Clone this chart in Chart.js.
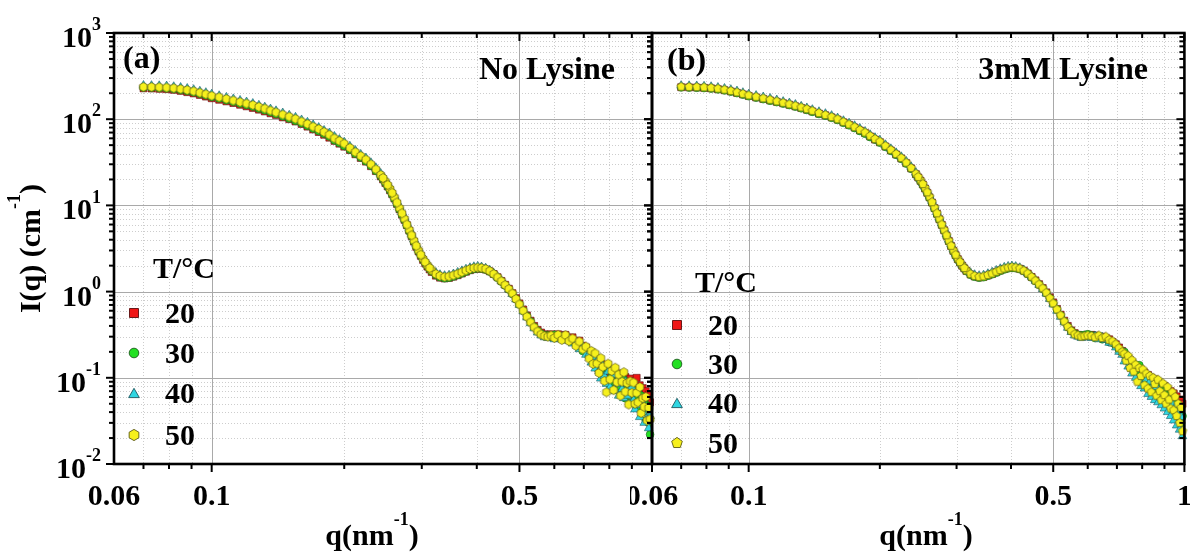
<!DOCTYPE html>
<html>
<head>
<meta charset="utf-8">
<script src="https://cdn.jsdelivr.net/npm/chart.js@4.4.0/dist/chart.umd.min.js"></script>
<style>
  html, body { margin: 0; padding: 0; background: #fff; }
  #wrap { position: relative; width: 1190px; height: 556px; overflow: hidden; background: #fff; }
  #wrap canvas { position: absolute; top: 0; }
  #cA { left: 0; }
  #cB { left: 630px; }
</style>
</head>
<body>
<div id="wrap">
  <canvas id="cA" width="660" height="556" style="width:660px;height:556px"></canvas>
  <canvas id="cB" width="560" height="556" style="width:560px;height:556px"></canvas>
</div>
<script>
/* SAXS curves I(q) vs q, two panels, log-log */

// q grid (nm^-1), shared by all series; last row = extra points on the steep part
const qValues = [
  0.070,0.073,0.076,0.079,0.082,0.085,0.088,0.091,0.094,0.097,0.100,
  0.104,0.108,0.112,0.116,0.120,0.124,0.128,0.132,0.136,0.140,
  0.145,0.150,0.155,0.160,0.165,0.170,0.175,0.180,0.185,0.190,0.195,0.200,
  0.206,0.212,0.218,0.224,0.230,0.236,0.242,0.248,0.254,0.260,
  0.267,0.274,0.281,0.288,0.295,0.302,0.309,0.316,0.323,0.330,
  0.338,0.346,0.354,0.362,0.370,0.378,0.386,0.394,0.402,0.410,
  0.419,0.428,0.437,0.446,0.455,0.464,0.473,0.482,0.491,0.500,
  0.510,0.520,0.530,0.540,0.550,0.560,0.570,0.580,0.590,0.600,
  0.612,0.624,0.636,0.648,0.660,0.672,0.684,0.696,0.708,0.720,
  0.728,0.735,0.743,0.750,0.758,0.765,0.773,0.780,0.788,0.795,0.803,0.810,
  0.818,0.825,0.833,0.840,0.848,0.855,0.863,0.870,0.878,0.885,0.893,0.900,
  0.908,0.915,0.923,0.930,0.938,0.945,0.953,0.960,0.968,0.975,0.983,0.990,
  0.245,0.251,0.257,0.2635,0.2705,0.2775,0.2845,0.2915,0.2985,0.3055,0.3125
];

// (a) No Lysine, I(q) in cm^-1
const aT20 = [
  228,227,225,223,219,213,206,199,191,183,175,
  168,161,154,147,141,135,129,123,117,112,
  105,100,94,88,82,76,71,66,61,56,52,48,
  43.8,39.2,35.5,32.2,28.5,25,21.7,18.2,15,12,
  9.0,6.8,5.1,3.8,2.92,2.33,1.95,1.69,1.53,1.45,
  1.42,1.44,1.49,1.55,1.62,1.70,1.77,1.82,1.85,1.84,
  1.80,1.72,1.60,1.47,1.33,1.20,1.08,0.96,0.84,0.73,
  0.62,0.53,0.46,0.40,0.36,0.335,0.32,0.315,0.32,0.31,
  0.32,0.305,0.315,0.29,0.295,0.265,0.27,0.235,0.225,0.20,
  0.195,0.178,0.17,0.162,0.15,0.145,0.128,0.142,0.12,0.13,0.112,0.125,
  0.105,0.118,0.10,0.112,0.095,0.108,0.09,0.102,0.094,0.085,0.098,0.08,
  0.092,0.076,0.10,0.072,0.082,0.068,0.076,0.062,0.07,0.058,0.064,0.052,
  20,16.6,13.5,10.4,7.8,5.9,4.4,3.3,2.6,2.13,1.81
];
const aT30 = [
  233,232,230,228,224,218,212,205,197,189,181,
  174,166,159,152,146,140,133,127,121,115,
  108,102,96,90,84,78,73,68,63,57,53,49,
  44.5,39.8,36,32.6,28.8,25.2,21.8,18.3,15,12,
  9.0,6.8,5.05,3.8,2.93,2.36,1.98,1.72,1.56,1.47,
  1.43,1.45,1.50,1.56,1.63,1.71,1.78,1.83,1.86,1.85,
  1.80,1.71,1.59,1.45,1.31,1.18,1.06,0.94,0.82,0.71,
  0.60,0.52,0.45,0.39,0.35,0.325,0.31,0.31,0.30,0.315,
  0.305,0.29,0.30,0.27,0.275,0.245,0.25,0.205,0.215,0.175,
  0.19,0.155,0.168,0.13,0.152,0.118,0.102,0.135,0.095,0.125,0.082,0.105,
  0.09,0.115,0.072,0.096,0.08,0.065,0.095,0.058,0.082,0.068,0.08,0.052,
  0.072,0.06,0.045,0.068,0.05,0.062,0.04,0.055,0.032,0.048,0.03,0.022,
  20.1,16.6,13.4,10.4,7.8,5.85,4.4,3.33,2.62,2.16,1.84
];
const aT40 = [
  246,245,244,242,238,233,227,220,211,203,195,
  187,179,172,165,158,152,145,138,131,125,
  118,111,105,98,92,86,80,74,69,63,58,54,
  48.5,43.3,39,35.4,31.2,27.3,23.5,19.8,16.2,12.9,
  9.7,7.3,5.4,4.05,3.1,2.5,2.09,1.82,1.66,1.57,
  1.53,1.55,1.60,1.67,1.74,1.82,1.89,1.94,1.96,1.93,
  1.87,1.77,1.63,1.48,1.33,1.19,1.06,0.94,0.81,0.70,
  0.59,0.50,0.43,0.375,0.335,0.31,0.295,0.29,0.295,0.28,
  0.285,0.30,0.27,0.285,0.25,0.26,0.215,0.23,0.185,0.19,
  0.15,0.172,0.128,0.155,0.12,0.098,0.14,0.105,0.085,0.118,0.078,0.098,
  0.108,0.07,0.09,0.062,0.085,0.074,0.058,0.09,0.062,0.072,0.05,0.078,
  0.055,0.043,0.066,0.048,0.035,0.055,0.04,0.03,0.045,0.034,0.026,0.036,
  21.6,18,14.5,11.2,8.4,6.3,4.7,3.55,2.78,2.28,1.95
];
const aT50 = [
  237,236,235,233,229,224,218,211,203,195,187,
  180,172,165,158,152,146,139,133,126,120,
  113,107,101,94,88,82,77,71,66,60,56,52,
  46.5,41.5,37.5,34,30,26.2,22.6,19,15.6,12.4,
  9.3,7.0,5.2,3.9,3.0,2.4,2.02,1.76,1.60,1.52,
  1.48,1.50,1.55,1.61,1.68,1.76,1.83,1.88,1.90,1.88,
  1.83,1.73,1.60,1.46,1.32,1.19,1.07,0.95,0.82,0.71,
  0.60,0.51,0.44,0.385,0.345,0.318,0.305,0.30,0.31,0.29,
  0.315,0.275,0.313,0.266,0.286,0.235,0.264,0.214,0.23,0.167,
  0.205,0.145,0.192,0.147,0.114,0.169,0.134,0.092,0.068,0.146,0.096,0.12,
  0.072,0.131,0.089,0.109,0.062,0.09,0.116,0.069,0.087,0.049,0.091,0.067,
  0.088,0.05,0.067,0.052,0.078,0.039,0.058,0.046,0.06,0.032,0.045,0.033,
  20.8,17.3,14.0,10.8,8.1,6.0,4.5,3.4,2.68,2.2,1.88
];

// (b) 3mM Lysine
const bT20 = [
  235,234,233,231,228,223,217,210,202,194,186,
  179,172,165,159,153,147,141,135,129,123,
  116,111,105,99,92,86,80,74,69,63,58,54,
  48.2,43.4,39,35,30.9,26.9,23,19.3,15.7,12.4,
  9.3,6.9,5.15,3.86,2.97,2.38,2.0,1.74,1.58,1.5,
  1.46,1.48,1.54,1.6,1.68,1.76,1.83,1.88,1.9,1.89,
  1.84,1.75,1.62,1.48,1.35,1.22,1.1,0.98,0.86,0.75,
  0.63,0.54,0.46,0.4,0.355,0.33,0.315,0.305,0.31,0.315,
  0.315,0.31,0.30,0.30,0.29,0.28,0.26,0.245,0.225,0.205,
  0.19,0.18,0.168,0.16,0.15,0.142,0.135,0.128,0.12,0.125,0.11,0.115,
  0.10,0.108,0.095,0.10,0.09,0.096,0.084,0.09,0.078,0.085,0.072,0.08,
  0.068,0.074,0.064,0.07,0.06,0.066,0.056,0.061,0.052,0.056,0.048,0.05,
  21.1,17.5,14,10.8,8.0,5.95,4.45,3.38,2.65,2.18,1.86
];
const bT30 = [
  234,233,232,230,227,222,216,209,201,193,185,
  178,171,164,158,152,146,140,134,128,122,
  115,110,104,98,91,85,79,73,68,62,58,53.5,
  47.8,43,38.6,34.7,30.6,26.6,22.8,19.1,15.6,12.3,
  9.2,6.85,5.1,3.82,2.95,2.36,1.99,1.73,1.57,1.49,
  1.45,1.47,1.53,1.59,1.66,1.74,1.81,1.86,1.88,1.87,
  1.82,1.73,1.6,1.46,1.33,1.2,1.08,0.96,0.84,0.73,
  0.62,0.53,0.45,0.39,0.35,0.325,0.315,0.31,0.315,0.32,
  0.31,0.29,0.305,0.28,0.285,0.26,0.255,0.235,0.21,0.195,
  0.20,0.16,0.165,0.145,0.135,0.145,0.118,0.112,0.14,0.10,0.095,0.11,
  0.085,0.095,0.078,0.09,0.072,0.088,0.062,0.078,0.058,0.074,0.055,0.07,
  0.05,0.062,0.046,0.058,0.042,0.052,0.038,0.047,0.034,0.042,0.03,0.036,
  20.9,17.3,13.9,10.7,7.9,5.9,4.42,3.36,2.63,2.16,1.85
];
const bT40 = [
  245,244,243,241,238,233,227,220,212,203,195,
  188,181,174,167,160,154,148,141,135,129,
  122,116,110,103,96,90,84,78,72,66,61,57,
  50.5,45.3,40.7,36.6,32.3,28,24,20.1,16.4,13,
  9.7,7.2,5.35,4.0,3.1,2.47,2.08,1.81,1.65,1.57,
  1.53,1.55,1.61,1.68,1.76,1.84,1.91,1.96,1.98,1.95,
  1.89,1.78,1.64,1.49,1.34,1.2,1.07,0.95,0.82,0.71,
  0.6,0.51,0.44,0.38,0.34,0.31,0.30,0.29,0.30,0.295,
  0.29,0.305,0.28,0.295,0.275,0.255,0.25,0.225,0.20,0.185,
  0.155,0.175,0.135,0.155,0.112,0.142,0.10,0.126,0.092,0.08,0.11,0.075,
  0.096,0.065,0.09,0.06,0.082,0.055,0.078,0.052,0.07,0.048,0.065,0.044,
  0.06,0.04,0.055,0.036,0.05,0.032,0.046,0.028,0.04,0.025,0.035,0.021,
  22,18.2,14.7,11.3,8.4,6.2,4.65,3.52,2.76,2.26,1.94
];
const bT50 = [
  238,237,236,234,231,226,220,213,205,197,189,
  182,175,168,161,155,149,143,137,131,125,
  118,112,106,100,93,87,81,75,70,64,59,55,
  49,44,39.5,35.5,31.3,27.2,23.3,19.5,15.9,12.6,
  9.4,7.0,5.2,3.9,3.0,2.4,2.02,1.76,1.60,1.52,
  1.48,1.50,1.56,1.62,1.70,1.78,1.85,1.90,1.92,1.90,
  1.85,1.75,1.62,1.48,1.34,1.21,1.09,0.97,0.84,0.73,
  0.62,0.53,0.45,0.39,0.35,0.32,0.31,0.30,0.305,0.31,
  0.305,0.295,0.31,0.29,0.30,0.275,0.265,0.245,0.22,0.20,
  0.19,0.158,0.18,0.13,0.16,0.118,0.142,0.09,0.13,0.105,0.125,0.082,
  0.112,0.075,0.105,0.068,0.10,0.085,0.062,0.095,0.07,0.055,0.086,0.063,
  0.05,0.078,0.056,0.044,0.068,0.042,0.06,0.036,0.05,0.03,0.045,0.024,
  21.4,17.7,14.2,10.9,8.1,6.0,4.5,3.4,2.68,2.2,1.88
];

const tempLabels = ['20', '30', '40', '50'];

// axis ticks
const xMinorTicks = [0.07, 0.08, 0.09, 0.2, 0.3, 0.4, 0.6, 0.7, 0.8, 0.9];
const xMajorTicks = [0.1, 0.5];
const yDecades = [-2, -1, 0, 1, 2, 3];
const yMinorSteps = [2, 3, 4, 5, 6, 7, 8, 9];

// styles
const FONT = '"Liberation Serif", "Times New Roman", serif';
const fills = ['#f01616', '#22e022', '#2fd6e2', '#f6f01c'];
const edges = ['#5a0d0d', '#1d5a1d', '#1d5860', '#5c5a10'];

function polyMarker(n, r, fill, stroke){
  const s = Math.ceil(r*2 + 3);
  const c = document.createElement('canvas'); c.width = s; c.height = s;
  const g = c.getContext('2d');
  g.beginPath();
  for(let k=0;k<n;k++){
    const t = -Math.PI/2 + k*2*Math.PI/n;
    const px = s/2 + r*Math.cos(t), py = s/2 + r*Math.sin(t);
    k ? g.lineTo(px,py) : g.moveTo(px,py);
  }
  g.closePath(); g.fillStyle = fill; g.fill();
  g.lineWidth = 0.7; g.strokeStyle = stroke; g.stroke();
  return c;
}

const toPts = (ys) => ys.map((v,i)=>({x:qValues[i], y:v}));

function makeDatasets(series, lastSides){
  const styles = [
    {pointStyle:'rect', pointRadius:4.9},
    {pointStyle:'circle', pointRadius:3.9},
    {pointStyle:'triangle', pointRadius:5},
    {pointStyle:polyMarker(lastSides, 4.5, fills[3], edges[3]), pointRadius:4.5},
  ];
  return series.map((ys,i)=>({
    label: tempLabels[i],
    data: toPts(ys),
    showLine:false,
    pointStyle: styles[i].pointStyle,
    pointRadius: styles[i].pointRadius,
    pointBackgroundColor: fills[i],
    pointBorderColor: edges[i],
    pointBorderWidth: 0.6,
    order: 4 - i,
    clip: false,
  }));
}

function hline(ctx,x1,x2,y){ ctx.beginPath(); ctx.moveTo(x1,y); ctx.lineTo(x2,y); ctx.stroke(); }
function vline(ctx,x,y1,y2){ ctx.beginPath(); ctx.moveTo(x,y1); ctx.lineTo(x,y2); ctx.stroke(); }

// text with superscript parts: [[text, isSup], ...]
function supText(ctx, parts, x, y, align, size, lift){
  const big = `bold ${size}px ${FONT}`, small = `bold ${Math.round(size*0.6)}px ${FONT}`;
  let w = 0;
  parts.forEach(([t,s])=>{ ctx.font = s?small:big; w += ctx.measureText(t).width; });
  let cx = align==='center' ? x - w/2 : (align==='right' ? x - w : x);
  ctx.textAlign = 'left'; ctx.textBaseline = 'alphabetic';
  parts.forEach(([t,s])=>{
    ctx.font = s?small:big;
    ctx.fillText(t, cx, s ? y - size*lift : y);
    cx += ctx.measureText(t).width;
  });
}

function legendMark(ctx, i, x, y, sides){
  ctx.save();
  ctx.fillStyle = fills[i]; ctx.strokeStyle = edges[i]; ctx.lineWidth = 0.9;
  ctx.beginPath();
  if(i===0){ ctx.rect(x-4.5, y-4.5, 9, 9); }
  else if(i===1){ ctx.arc(x, y, 4.8, 0, Math.PI*2); }
  else {
    const n = i===2 ? 3 : sides, r = i===2 ? 6.2 : 5.6;
    for(let k=0;k<n;k++){
      const t = -Math.PI/2 + k*2*Math.PI/n;
      const px = x + r*Math.cos(t), py = y + (i===2?1.5:0) + r*Math.sin(t);
      k ? ctx.lineTo(px,py) : ctx.moveTo(px,py);
    }
    ctx.closePath();
  }
  ctx.fill(); ctx.stroke();
  ctx.restore();
}

const framePlugin = {
  id: 'saxsFrame',
  beforeDatasetsDraw(chart, args, o){
    const {ctx, chartArea:a, scales:{x, y}} = chart;
    ctx.save();
    // minor grid, dotted
    ctx.lineWidth = 1; ctx.strokeStyle = '#cdcdcd'; ctx.setLineDash([1,2]);
    xMinorTicks.forEach(v=>{ const px = Math.round(x.getPixelForValue(v))+0.5; vline(ctx,px,a.top,a.bottom); });
    yDecades.slice(0,-1).forEach(d=>yMinorSteps.forEach(m=>{
      const py = Math.round(y.getPixelForValue(m*Math.pow(10,d)))+0.5; hline(ctx,a.left,a.right,py);
    }));
    // major grid, solid
    ctx.setLineDash([]); ctx.strokeStyle = '#a9a9a9';
    xMajorTicks.forEach(v=>{ const px = Math.round(x.getPixelForValue(v))+0.5; vline(ctx,px,a.top,a.bottom); });
    yDecades.slice(1,-1).forEach(d=>{ const py = Math.round(y.getPixelForValue(Math.pow(10,d)))+0.5; hline(ctx,a.left,a.right,py); });
    ctx.restore();
  },
  afterDatasetsDraw(chart, args, o){
    const {ctx, chartArea:a, scales:{x, y}} = chart;
    ctx.save();
    ctx.strokeStyle = '#000'; ctx.fillStyle = '#000';
    // ticks: y ticks sit left of each vertical border, x ticks below each horizontal border
    ctx.lineWidth = 2;
    yDecades.forEach(d=>{
      const py = y.getPixelForValue(Math.pow(10,d));
      [a.left, a.right].forEach(bx=>hline(ctx,bx-8,bx,py));
      if(d<3) yMinorSteps.forEach(m=>{
        const pm = y.getPixelForValue(m*Math.pow(10,d));
        [a.left, a.right].forEach(bx=>hline(ctx,bx-5,bx,pm));
      });
    });
    xMajorTicks.concat([1]).forEach(v=>{
      const px = x.getPixelForValue(v);
      [a.top, a.bottom].forEach(by=>vline(ctx,px,by,by+8));
    });
    xMinorTicks.forEach(v=>{
      const px = x.getPixelForValue(v);
      [a.top, a.bottom].forEach(by=>vline(ctx,px,by,by+5));
    });
    // frame
    ctx.lineWidth = 2.6;
    ctx.strokeRect(a.left, a.top, a.right-a.left, a.bottom-a.top);

    // x tick labels
    ctx.font = `bold 30px ${FONT}`; ctx.textAlign = 'center'; ctx.textBaseline = 'alphabetic';
    o.xLabels.forEach(([v,t])=>ctx.fillText(t, x.getPixelForValue(v), 505));
    // x title
    supText(ctx, [['q(nm',false],['-1',true],[')',false]], o.titleX, 545, 'center', 30, 0.66);

    // y tick labels + title (left panel only)
    if(o.yLabels){
      yDecades.forEach(d=>{
        const py = y.getPixelForValue(Math.pow(10,d));
        supText(ctx, [['10',false],[String(d),true]], 101, py+14, 'right', 30, 0.56);
      });
      ctx.save();
      ctx.translate(31, (a.top+a.bottom)/2);
      ctx.rotate(-Math.PI/2);
      supText(ctx, [['I(q) (cm',false],['-1',true],[')',false]], 0, 9, 'center', 30, 0.66);
      ctx.restore();
    }

    // panel tag and sample note
    ctx.font = `bold 32px ${FONT}`; ctx.textAlign = 'left';
    ctx.fillText(o.tag, o.tagX, o.tagY);
    ctx.textAlign = 'right';
    ctx.fillText(o.note, o.noteRight, 79);

    // legend
    const L = o.legend;
    ctx.font = `bold 30px ${FONT}`; ctx.textAlign = 'left';
    ctx.fillText('T/°C', L.titleX, L.titleY);
    L.rows.forEach((ry,i)=>{
      legendMark(ctx, i, L.markX, ry, o.sides);
      ctx.fillStyle = '#000';
      ctx.fillText(tempLabels[i], L.textX, ry+10);
    });
    ctx.restore();
  }
};

function makeChart(canvasId, series, opts){
  return new Chart(document.getElementById(canvasId), {
    type: 'scatter',
    data: { datasets: makeDatasets(series, opts.sides) },
    options: {
      responsive: false, animation: false,
      layout: { padding: { left: opts.padL, right: opts.padR, top: 33, bottom: 92 } },
      scales: {
        x: { type: 'logarithmic', min: 0.06, max: 1, display: false },
        y: { type: 'logarithmic', min: 0.01, max: 1000, display: false },
      },
      plugins: { legend: { display: false }, tooltip: { enabled: false }, saxsFrame: opts },
    },
    plugins: [framePlugin],
  });
}

makeChart('cA', [aT20, aT30, aT40, aT50], {
  padL: 114, padR: 8, sides: 6, yLabels: true,
  xLabels: [[0.06,'0.06'],[0.1,'0.1'],[0.5,'0.5']], titleX: 372,
  tag: '(a)', tagX: 123, tagY: 68, note: 'No Lysine', noteRight: 615,
  legend: { titleX: 153, titleY: 278, markX: 134, textX: 165, rows: [313, 353, 393, 435] },
});

makeChart('cB', [bT20, bT30, bT40, bT50], {
  padL: 22, padR: 0, sides: 5, yLabels: false,
  xLabels: [[0.06,'0.06'],[0.1,'0.1'],[0.5,'0.5'],[1,'1']], titleX: 296,
  tag: '(b)', tagX: 37, tagY: 70, note: '3mM Lysine', noteRight: 518,
  legend: { titleX: 65, titleY: 292, markX: 47, textX: 78, rows: [325, 364, 403, 443] },
});

// quick sanity check on array lengths
[aT20,aT30,aT40,aT50,bT20,bT30,bT40,bT50].forEach((s,i)=>console.assert(s.length===qValues.length, 'len '+i+' '+s.length));
</script>
</body>
</html>
